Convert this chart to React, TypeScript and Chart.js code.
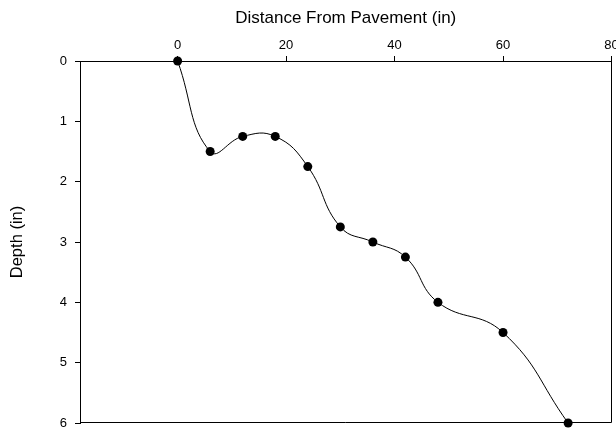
import React, { useEffect, useRef } from "react";
import { Chart, registerables } from "chart.js";

Chart.register(...registerables);

const distance = [0, 6, 12, 18, 24, 30, 36, 42, 48, 60, 72];
const depth = [0, 1.5, 1.25, 1.25, 1.75, 2.75, 3.0, 3.25, 4.0, 4.5, 6.0];
const xTicks = [0, 20, 40, 60, 80];
const yTicks = [0, 1, 2, 3, 4, 5, 6];

const FONT = "Liberation Sans, Arial, sans-serif";

const framePlugin = {
  id: "frame",
  afterDraw(chart: any) {
    const { ctx, chartArea } = chart;
    ctx.save();
    ctx.strokeStyle = "#000";
    ctx.lineWidth = 1;
    ctx.beginPath();
    ctx.moveTo(Math.round(chartArea.right) - 0.5, Math.round(chartArea.top));
    ctx.lineTo(Math.round(chartArea.right) - 0.5, Math.round(chartArea.bottom) - 0.5);
    ctx.lineTo(Math.round(chartArea.left), Math.round(chartArea.bottom) - 0.5);
    ctx.stroke();
    ctx.restore();
  },
};

export default function App() {
  const ref = useRef<HTMLCanvasElement | null>(null);
  useEffect(() => {
    document.body.style.margin = "0";
    const canvas = ref.current!;
    const chart = new Chart(canvas, {
      type: "line",
      data: {
        datasets: [
          {
            data: distance.map((x, i) => ({ x, y: depth[i] })),
            borderColor: "#000",
            borderWidth: 1,
            backgroundColor: "#000",
            pointBackgroundColor: "#000",
            pointBorderColor: "#000",
            pointRadius: 4.5,
            pointBorderWidth: 0,
            tension: 0.45,
            fill: false,
            clip: false as any,
          },
        ],
      },
      options: {
        responsive: false,
        animation: false,
        events: [],
        layout: { padding: { left: 0, right: 4, top: 0, bottom: 10 } },
        plugins: { legend: { display: false }, tooltip: { enabled: false } },
        scales: {
          x: {
            type: "linear",
            position: "top",
            min: -18,
            max: 80,
            afterBuildTicks: (s: any) => {
              s.ticks = xTicks.map((v) => ({ value: v }));
            },
            afterFit: (s: any) => {
              s.height = 61;
              s.paddingLeft = 0;
              s.paddingRight = 0;
            },
            grid: { display: true, drawOnChartArea: false, drawTicks: true, tickLength: 5, color: "#000" },
            border: { display: true, color: "#000", width: 1 },
            ticks: { color: "#000", padding: 3, font: { family: FONT, size: 13 } },
            title: {
              display: true,
              text: "Distance From Pavement (in)",
              color: "#000",
              padding: { top: 8, bottom: 0 },
              font: { family: FONT, size: 17 },
            },
          },
          y: {
            type: "linear",
            position: "left",
            reverse: true,
            min: 0,
            max: 6,
            afterBuildTicks: (s: any) => {
              s.ticks = yTicks.map((v) => ({ value: v }));
            },
            afterFit: (s: any) => {
              s.width = 80;
              s.paddingTop = 0;
              s.paddingBottom = 0;
            },
            grid: { display: true, drawOnChartArea: false, drawTicks: true, tickLength: 5, color: "#000" },
            border: { display: true, color: "#000", width: 1 },
            ticks: { color: "#000", padding: 8, font: { family: FONT, size: 13 } },
            title: {
              display: true,
              text: "Depth (in)",
              color: "#000",
              padding: { top: 8, bottom: 0 },
              font: { family: FONT, size: 16.5 },
            },
          },
        },
      },
      plugins: [framePlugin],
    });
    return () => chart.destroy();
  }, []);
  return <canvas ref={ref} width={616} height={433} style={{ display: "block" }} />;
}
